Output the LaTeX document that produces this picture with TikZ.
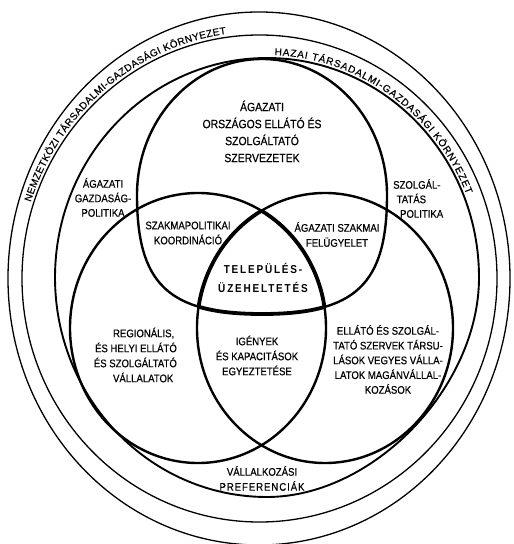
\documentclass[tikz,border=0pt]{standalone}
\usepackage{fontspec}
\setmainfont{Liberation Sans}[UprightFeatures={FakeBold=0.5}]
\usetikzlibrary{decorations.text}
\newcommand\TopShape[1]{\path[#1] (387,195) .. controls (387,119.9) and (331,59) .. (262,59) .. controls (193,59) and (137,119.9) .. (137,195) .. controls (137,284.1) and (168.4,314) .. (262,314) .. controls (355.6,314) and (387,284.1) .. (387,195) -- cycle;}
\newcommand\LeftShape[1]{\path[#1] (198,328) ellipse[x radius=128bp, y radius=135bp];}
\newcommand\RightShape[1]{\path[#1] (325,328) ellipse[x radius=128bp, y radius=135bp];}
\newcommand\curvefont{\fontsize{10bp}{12bp}\selectfont}
\begin{document}
\begin{tikzpicture}[x=1bp,y=-1bp,
  ring/.style={line width=1.3bp},
  innerring/.style={line width=1.9bp},
  venn/.style={draw, line width=2.4bp},
  core/.style={draw, line width=3.8bp},
  lbl/.style={font=\fontsize{11bp}{15bp}\selectfont, align=center, inner sep=0pt, xscale=0.87, transform shape},
]
\useasboundingbox (0,0) rectangle (514,544);
\coordinate (c1) at (259,278.5);
\coordinate (c2) at (259.5,278.5);
\coordinate (c3) at (267,277.5);
% rings
\draw[ring] (c1) ellipse[x radius=251bp, y radius=266.5bp];
\draw[ring] (c2) ellipse[x radius=237.5bp, y radius=243.5bp];
\draw[innerring] (267,58) .. controls (384.1,58) and (479,156.3) .. (479,277.5)
  .. controls (479,387.25) and (373,497) .. (267,497)
  .. controls (149.9,497) and (55,398.7) .. (55,277.5)
  .. controls (55,156.3) and (149.9,58) .. (267,58) -- cycle;
% venn
\TopShape{venn}
\LeftShape{venn}
\RightShape{venn}
% thick core boundary
\begin{scope}\LeftShape{clip}\RightShape{clip}\TopShape{core}\end{scope}
\begin{scope}\TopShape{clip}\RightShape{clip}\LeftShape{core}\end{scope}
\begin{scope}\TopShape{clip}\LeftShape{clip}\RightShape{core}\end{scope}
% curved texts
\path[decorate, decoration={text along path, text align=fit to path,
  text={|\curvefont|NEMZETKÖZI TÁRSADALMI-GAZDASÁGI KÖRNYEZET}}]
  (c2) ++(162:240.5bp and 247bp) arc[start angle=162, end angle=98, x radius=240.5bp, y radius=247bp];
\path[decorate, decoration={text along path, text align=fit to path,
  text={|\curvefont|HAZAI  TÁRSADALMI-GAZDASÁGI KÖRNYEZET}}]
  (c3) ++(88:215bp and 222.5bp) arc[start angle=88, end angle=22, x radius=215bp, y radius=222.5bp];
% labels
\node[lbl, font=\fontsize{12bp}{17bp}\selectfont] (sector) at (262,131.5) {ÁGAZATI\\ORSZÁGOS ELLÁTÓ ÉS\\SZOLGÁLTATÓ\\SZERVEZETEK};
\node[lbl, font=\fontsize{11bp}{14.5bp}\selectfont] (agpol) at (103,197.5) {ÁGAZATI\\GAZDASÁG-\\POLITIKA};
\node[lbl] (szakpol) at (188,233) {SZAKMAPOLITIKAI\\KOORDINÁCIÓ};
\node[lbl] (agfel) at (337,234.5) {ÁGAZATI SZAKMAI\\FELÜGYELET};
\node[lbl, font=\fontsize{11bp}{14.5bp}\selectfont, align=left, anchor=west] (szolg) at (393,198.5) {SZOLGÁL-\\\hspace*{4bp}TATÁS\\\hspace*{8bp}POLITIKA};
\node[lbl, font=\fontsize{11.5bp}{19bp}\selectfont\bfseries\addfontfeature{LetterSpace=18}] (telep) at (263,277.5) {TELEPÜLÉS-\\ÜZEHELTETÉS};
\node[lbl, align=right, anchor=east] (regio) at (177,355) {REGIONÁLIS,\hspace*{3bp}\\ÉS HELYI ELLÁTÓ\\ÉS SZOLGÁLTATÓ\\VÁLLALATOK\hspace*{4bp}};
\node[lbl] (igeny) at (257,355.5) {IGÉNYEK\\ÉS KAPACITÁSOK\\EGYEZTETÉSE};
\node[lbl, font=\fontsize{11bp}{14.75bp}\selectfont] (ellato) at (388,359.5) {ELLÁTÓ ÉS SZOLGÁL-\\TATÓ SZERVEK TÁRSU-\\LÁSOK VEGYES VÁLLA-\\LATOK MAGÁNVÁLLAL-\\KOZÁSOK};
\node[lbl] (vallal) at (262,478.5) {VÁLLALKOZÁSI\\\addfontfeature{LetterSpace=10}PREFERENCIÁK};
\end{tikzpicture}
\end{document}
